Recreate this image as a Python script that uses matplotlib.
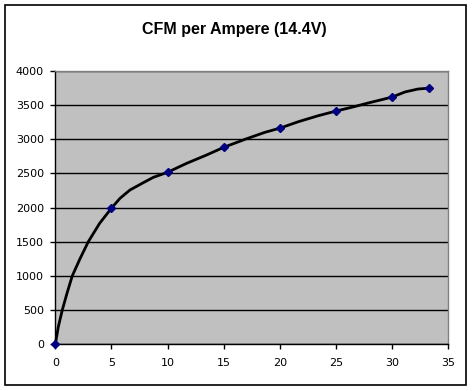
import matplotlib
matplotlib.use("Agg")
import matplotlib.pyplot as plt
from matplotlib.patches import Rectangle

# points mesures (marqueurs)
amperes = [0, 5, 10, 15, 20, 25, 30, 33.3]
cfm = [0, 1990, 2515, 2880, 3160, 3410, 3615, 3745]

# courbe
courbe_x = [0, 0.27, 0.62, 1.04, 1.51, 2.2, 2.94, 3.95, 5, 5.76, 6.65, 7.84, 8.73, 10,
            11.7, 13.48, 15, 16.9, 18.67, 20, 21.64, 23.42, 25, 26.4, 27.87, 29.06, 30,
            31.14, 32.3, 33.3]
courbe_y = [0, 257, 500, 745, 1000, 1251, 1500, 1769, 1990, 2134, 2256, 2363, 2441, 2515,
            2646, 2768, 2880, 2997, 3099, 3160, 3254, 3342, 3410, 3465, 3528, 3576, 3615,
            3689, 3732, 3745]

x_ticks = [0, 5, 10, 15, 20, 25, 30, 35]
y_ticks = [0, 500, 1000, 1500, 2000, 2500, 3000, 3500, 4000]

plt.rcParams['font.family'] = ['DejaVu Sans']

fig = plt.figure(figsize=(4.73, 3.91), dpi=100)
fig.patch.set_facecolor('white')
fig.patches.append(Rectangle((5/473, 6/391), 461/473, 380/391, transform=fig.transFigure,
                             fill=False, edgecolor='black', linewidth=1.2))

ax = fig.add_axes([55.3/473, 46.7/391, 393/473, 273.6/391])
ax.set_facecolor('#c0c0c0')
ax.set_xlim(0, 35)
ax.set_ylim(0, 4000)
ax.set_xticks(x_ticks)
ax.set_yticks(y_ticks)
ax.yaxis.grid(True, color='black', linewidth=1)
ax.set_axisbelow(True)

for s in ['top', 'right']:
    ax.spines[s].set_color('#808080')
    ax.spines[s].set_linewidth(1)
for s in ['left', 'bottom']:
    ax.spines[s].set_color('black')
    ax.spines[s].set_linewidth(1)

ax.tick_params(direction='out', length=3.6, width=1, labelsize=8, colors='black')
ax.tick_params(axis='x', pad=6)
ax.tick_params(axis='y', pad=4.5)

ax.plot(courbe_x, courbe_y, color='black', linewidth=2, clip_on=False, zorder=3)
ax.plot(amperes, cfm, linestyle='none', marker='D', markersize=4,
        markerfacecolor='#000080', markeredgecolor='#000080', clip_on=False, zorder=4)

fig.text(234/473, 1 - 29.7/391, 'CFM per Ampere (14.4V)', ha='center', va='center',
         fontsize=11.5, fontweight='bold', family=['Liberation Sans', 'DejaVu Sans'])

fig.savefig('out.png', dpi=100)
